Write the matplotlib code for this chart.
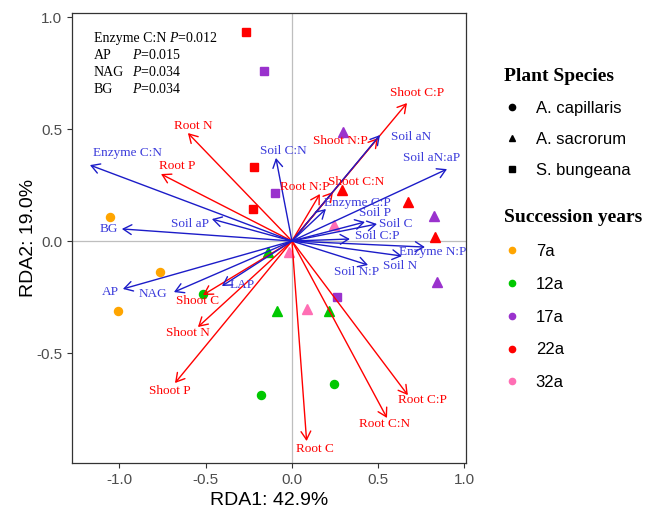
import matplotlib
matplotlib.use("Agg")
import matplotlib.pyplot as plt
from matplotlib.lines import Line2D

plt.rcParams["mathtext.fontset"] = "custom"
plt.rcParams["mathtext.rm"] = "Liberation Serif"
plt.rcParams["mathtext.it"] = "Liberation Serif:italic"
plt.rcParams["axes.unicode_minus"] = False

# soil / enzyme variables (blue arrows)
env_names = ["Enzyme C:N", "BG", "Soil aP", "Soil C:N", "AP", "NAG", "LAP",
             "Soil aN", "Soil aN:aP", "Enzyme C:P", "Soil P", "Soil C",
             "Soil C:P", "Enzyme N:P", "Soil N", "Soil N:P"]
env_x = [-1.171, -0.986, -0.464, -0.093, -0.980, -0.684, -0.406,
         0.510, 0.899, 0.197, 0.423, 0.493, 0.336, 0.771, 0.638, 0.441]
env_y = [0.339, 0.054, 0.098, 0.371, -0.214, -0.228, -0.201,
         0.473, 0.321, 0.143, 0.085, 0.076, 0.009, -0.027, -0.067, -0.107]

# plant stoichiometry (red arrows)
plant_names = ["Root N", "Root P", "Root N:P", "Shoot C:N", "Shoot N:P",
               "Shoot C:P", "Shoot C", "Shoot N", "Shoot P", "Root C",
               "Root C:N", "Root C:P"]
plant_x = [-0.603, -0.759, 0.162, 0.238, 0.499, 0.667, -0.516, -0.545,
           -0.678, 0.085, 0.551, 0.672]
plant_y = [0.482, 0.299, 0.210, 0.219, 0.460, 0.616, -0.241, -0.384,
           -0.634, -0.893, -0.790, -0.688]

# site scores
site_x = [-0.267, -0.162, -0.220, -0.099, -0.226, 0.261,
          -1.055, -0.765, -1.009, -0.516, -0.180, 0.243,
          -0.139, -0.087, 0.214, -0.017, 0.087, 0.243,
          0.296, 0.823, 0.841, 0.290, 0.672, 0.829]
site_y = [0.933, 0.759, 0.330, 0.214, 0.143, -0.250,
          0.107, -0.138, -0.313, -0.237, -0.688, -0.638,
          -0.049, -0.313, -0.313, -0.049, -0.304, 0.071,
          0.487, 0.112, -0.183, 0.228, 0.174, 0.018]
site_species = ["S. bungeana", "S. bungeana", "S. bungeana", "S. bungeana", "S. bungeana", "S. bungeana",
                "A. capillaris", "A. capillaris", "A. capillaris", "A. capillaris", "A. capillaris", "A. capillaris",
                "A. sacrorum", "A. sacrorum", "A. sacrorum", "A. sacrorum", "A. sacrorum", "A. sacrorum",
                "A. sacrorum", "A. sacrorum", "A. sacrorum", "A. sacrorum", "A. sacrorum", "A. sacrorum"]
site_year = ["22a", "17a", "22a", "17a", "22a", "17a",
             "7a", "7a", "7a", "12a", "12a", "12a",
             "12a", "12a", "12a", "32a", "32a", "32a",
             "17a", "17a", "17a", "22a", "22a", "22a"]

species = ["A. capillaris", "A. sacrorum", "S. bungeana"]
years = ["7a", "12a", "17a", "22a", "32a"]

sig_names = ["Enzyme C:N", "AP", "NAG", "BG"]
sig_p = ["0.012", "0.015", "0.034", "0.034"]

year_colors = {"7a": "#FFA500", "12a": "#00C800", "17a": "#9A32CD",
               "22a": "#FF0000", "32a": "#FF6EB4"}
species_markers = {"A. capillaris": "o", "A. sacrorum": "^", "S. bungeana": "s"}
marker_sizes = {"o": 5.8, "^": 6.8, "s": 5.8}

# label offsets from the arrow tips (data units)
env_label_off = {"Enzyme C:N": (0.22, 0.054), "BG": (-0.075, 0.0),
                 "Soil aP": (-0.127, -0.022), "Soil C:N": (0.041, 0.031),
                 "AP": (-0.075, -0.014), "NAG": (-0.122, -0.009),
                 "LAP": (0.116, 0.005), "Soil aN": (0.18, -0.009),
                 "Soil aN:aP": (-0.089, 0.049), "Enzyme C:P": (0.18, 0.027),
                 "Soil P": (0.058, 0.04), "Soil C": (0.11, 0.0),
                 "Soil C:P": (0.157, 0.013), "Enzyme N:P": (0.046, -0.022),
                 "Soil N": (-0.012, -0.045), "Soil N:P": (-0.064, -0.031)}
plant_label_off = {"Root N": (0.029, 0.031), "Root P": (0.092, 0.036),
                   "Root N:P": (-0.087, 0.031), "Shoot C:N": (0.133, 0.044),
                   "Shoot N:P": (-0.221, -0.014), "Shoot C:P": (0.058, 0.045),
                   "Shoot C": (-0.029, -0.027), "Shoot N": (-0.058, -0.027),
                   "Shoot P": (-0.029, -0.036), "Root C": (0.048, -0.036),
                   "Root C:N": (-0.012, -0.027), "Root C:P": (0.082, -0.022)}

fig = plt.figure(figsize=(6.48, 5.15), dpi=100)
ax = fig.add_axes([72 / 648, 1 - 463 / 515, 394 / 648, 450 / 515])

ax.axhline(0, color="#BEBEBE", lw=0.9, zorder=0)
ax.axvline(0, color="#BEBEBE", lw=0.9, zorder=0)


def draw_arrows(xs, ys, names, offsets, line_color, text_color):
    for x, y, name in zip(xs, ys, names):
        ax.annotate("", xy=(x, y), xytext=(0, 0),
                    arrowprops=dict(arrowstyle="->,head_length=0.6,head_width=0.35",
                                    color=line_color, lw=1.0,
                                    shrinkA=0, shrinkB=0), zorder=3)
        dx, dy = offsets[name]
        ax.text(x + dx, y + dy, name, color=text_color, fontsize=9.5,
                family="Liberation Serif", ha="center", va="center", zorder=4)


draw_arrows(plant_x, plant_y, plant_names, plant_label_off, "#FF0000", "#FF0000")
draw_arrows(env_x, env_y, env_names, env_label_off, "#1C1CC8", "#3B3BDB")

for x, y, sp, yr in zip(site_x, site_y, site_species, site_year):
    m = species_markers[sp]
    ax.plot(x, y, marker=m, ms=marker_sizes[m], color=year_colors[yr],
            ls="none", zorder=2)

# significant variables
for i, (name, p) in enumerate(zip(sig_names, sig_p)):
    ty = 0.905 - i * 0.076
    ax.text(-1.15, ty, name, fontsize=10, family="Liberation Serif",
            va="center", ha="left")
    px = -0.71 if i == 0 else -0.93
    ax.text(px, ty, r"$\mathit{P}$=" + p, fontsize=10,
            family="Liberation Serif", va="center", ha="left")

ax.set_xlim(-1.275, 1.009)
ax.set_ylim(-0.991, 1.018)
ax.set_xticks([-1.0, -0.5, 0.0, 0.5, 1.0])
ax.set_yticks([-0.5, 0.0, 0.5, 1.0])
ax.tick_params(direction="out", length=3.6, width=0.8, pad=3.5, colors="#333333",
               labelsize=11, labelcolor="#4D4D4D")
for s in ax.spines.values():
    s.set_color("#333333")
    s.set_linewidth(0.9)
for lab in ax.get_xticklabels() + ax.get_yticklabels():
    lab.set_family("Liberation Sans")
ax.set_xlabel("RDA1: 42.9%", fontsize=14, family="Liberation Sans", labelpad=4)
ax.set_ylabel("RDA2: 19.0%", fontsize=14, family="Liberation Sans", labelpad=-1)

# legends
sp_handles = [Line2D([], [], marker=species_markers[s], ls="none", color="black",
                     ms=4.5) for s in species]
yr_handles = [Line2D([], [], marker="o", ls="none", color=year_colors[y], ms=4.5)
              for y in years]
title_font = {"family": "Liberation Serif", "weight": "bold", "size": 14}
leg1 = fig.legend(sp_handles, species, loc="upper left",
                  bbox_to_anchor=(489 / 648, 1 - 53 / 515), frameon=False,
                  title="Plant Species", title_fontproperties=title_font,
                  prop={"family": "Liberation Sans", "size": 12},
                  labelspacing=0.95, handletextpad=0.9, handlelength=1.0)
leg1._legend_box.align = "left"
leg2 = fig.legend(yr_handles, years, loc="upper left",
                  bbox_to_anchor=(489 / 648, 1 - 194 / 515), frameon=False,
                  title="Succession years", title_fontproperties=title_font,
                  prop={"family": "Liberation Sans", "size": 12},
                  labelspacing=1.07, handletextpad=0.9, handlelength=1.0)
leg2._legend_box.align = "left"

fig.savefig("out.png", dpi=100)
